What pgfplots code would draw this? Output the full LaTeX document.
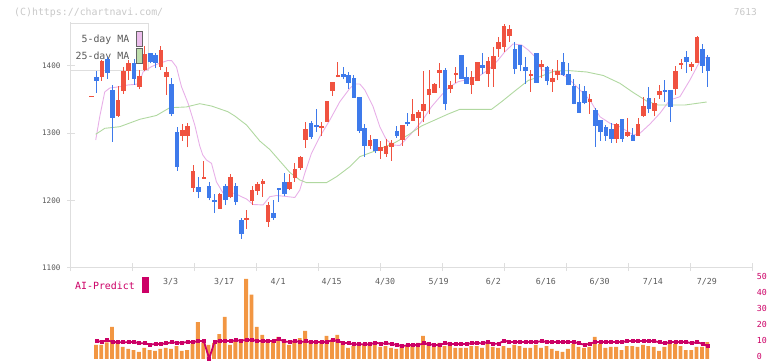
\documentclass[border=0pt]{standalone}
\usepackage{pgfplots}
\pgfplotsset{compat=1.18}
\usepackage{pgfplotstable}
\usepackage{fontspec}
\newfontfamily\chartfont{DejaVu Sans Mono}

\definecolor{upred}{RGB}{240,82,64}
\definecolor{downblue}{RGB}{62,122,235}
\definecolor{ma5}{RGB}{232,176,232}
\definecolor{ma25}{RGB}{176,216,160}
\definecolor{swpink}{RGB}{236,190,236}
\definecolor{swgreen}{RGB}{190,222,172}
\definecolor{swborder}{RGB}{100,100,100}
\definecolor{axisgray}{RGB}{222,222,222}
\definecolor{labgray}{RGB}{90,90,90}
\definecolor{wm}{RGB}{200,200,200}
\definecolor{volorange}{RGB}{242,150,66}
\definecolor{aimag}{RGB}{204,0,102}

% daily candles: i = trading day index, O H L C
\pgfplotstableread{
i O H L C
0 1354 1354 1354 1354
2 1384 1409 1378 1408
5 1327 1370 1324 1349
6 1363 1398 1359 1393
7 1393 1409 1379 1405
9 1369 1394 1365 1385
10 1395 1430 1393 1418
13 1399 1430 1394 1424
14 1384 1398 1357 1391
17 1297 1314 1289 1305
18 1297 1315 1279 1311
19 1219 1253 1213 1244
21 1233 1258 1233 1235
24 1188 1211 1187 1210
26 1206 1239 1203 1235
29 1172 1185 1158 1174
30 1200 1221 1193 1215
31 1214 1228 1208 1225
32 1225 1232 1205 1229
33 1168 1198 1161 1193
37 1218 1239 1215 1227
38 1234 1255 1228 1247
39 1249 1266 1245 1264
40 1290 1316 1278 1306
43 1309 1316 1296 1311
44 1317 1348 1317 1348
45 1364 1376 1356 1376
46 1385 1406 1383 1387
52 1281 1297 1276 1290
54 1274 1289 1262 1279
55 1270 1291 1265 1281
56 1280 1290 1259 1285
58 1291 1312 1281 1312
60 1319 1351 1318 1329
61 1323 1334 1296 1331
62 1333 1393 1316 1344
63 1358 1394 1328 1366
64 1360 1375 1360 1373
65 1390 1405 1367 1394
67 1367 1377 1360 1371
68 1387 1399 1375 1390
71 1373 1392 1358 1383
72 1378 1406 1378 1406
74 1389 1414 1369 1407
75 1396 1429 1369 1415
76 1426 1443 1414 1435
77 1429 1463 1421 1460
78 1445 1461 1436 1455
82 1386 1394 1362 1388
84 1399 1409 1382 1403
86 1377 1396 1362 1382
87 1388 1409 1379 1393
93 1347 1359 1329 1351
98 1292 1315 1286 1314
100 1297 1322 1295 1302
102 1297 1322 1297 1314
103 1327 1354 1324 1340
105 1334 1353 1325 1345
106 1358 1372 1351 1363
109 1366 1400 1357 1392
110 1402 1411 1395 1405
112 1399 1406 1393 1403
113 1405 1445 1405 1443
}\upcandles

\pgfplotstableread{
i O H L C
1 1383 1392 1360 1377
3 1410 1413 1381 1390
4 1363 1372 1287 1323
8 1403 1410 1372 1381
11 1418 1420 1404 1406
12 1416 1419 1397 1404
15 1373 1382 1325 1329
16 1301 1309 1244 1250
20 1219 1234 1203 1213
22 1220 1227 1200 1204
23 1200 1210 1181 1198
25 1220 1224 1193 1200
27 1220 1226 1193 1198
28 1170 1174 1143 1150
34 1180 1200 1171 1173
35 1218 1219 1198 1216
36 1226 1240 1206 1210
41 1314 1318 1292 1295
42 1311 1336 1302 1309
47 1388 1399 1380 1384
48 1386 1391 1366 1374
49 1382 1386 1353 1353
50 1353 1353 1300 1303
51 1307 1314 1265 1281
53 1290 1290 1270 1273
57 1302 1310 1293 1296
59 1316 1330 1311 1314
66 1394 1397 1334 1344
69 1415 1415 1381 1381
70 1383 1398 1373 1373
73 1401 1420 1388 1397
79 1424 1435 1388 1396
80 1430 1430 1392 1402
81 1398 1414 1373 1392
83 1418 1418 1375 1375
85 1398 1400 1371 1378
88 1405 1420 1385 1386
89 1388 1405 1371 1372
90 1369 1380 1343 1343
91 1345 1373 1330 1330
92 1362 1370 1343 1345
94 1333 1337 1280 1311
95 1319 1319 1289 1302
96 1308 1312 1289 1296
97 1306 1315 1286 1291
99 1320 1320 1287 1292
101 1296 1308 1289 1289
104 1352 1369 1330 1336
107 1363 1379 1347 1361
108 1363 1363 1317 1339
111 1413 1422 1390 1406
114 1424 1433 1390 1400
115 1413 1416 1369 1393
}\downcandles

% volume (scaled) and AI-Predict score per day
\pgfplotstableread{
i V A
1 8.75 11.2
2 8.75 10.8
3 10.4 11.7
4 20 10.6
5 10.4 10.6
6 7.5 10.4
7 6.25 10.6
8 5.6 10.6
9 4.4 9.8
10 6.9 9.8
11 5.6 9.0
12 5 9.4
13 6.25 9.4
14 6.9 9.8
15 6.25 10.4
16 8.1 10.2
17 5 10.2
18 5.6 10.6
19 9.6 10.6
20 23.1 11.2
21 10.4 11.2
22 8.75 0.3
23 10 10.8
24 15.6 11.2
25 26.25 11.2
26 8.75 11.2
27 11.25 11.7
28 11.25 11.5
29 50 11.9
30 40.2 11.9
31 20 11.2
32 15 11.2
33 11.25 11.2
34 11.25 11.2
35 13.75 12.3
36 11.9 11.0
37 8.75 10.6
38 11.25 11.2
39 13.1 10.6
40 17.5 11.0
41 10.4 10.6
42 10.4 10.6
43 10.4 10.6
44 14.4 10.6
45 11.25 11.9
46 15 11.2
47 10.4 10.2
48 6.9 9.8
49 8.1 9.2
50 8.75 9.2
51 8.75 9.2
52 8.75 9.2
53 8.75 10.2
54 7.5 9.6
55 8.1 9.8
56 6.9 9.4
57 6.25 8.8
58 8.1 8.1
59 8.1 8.6
60 8.1 8.8
61 10 8.8
62 14.4 9.8
63 10.6 9.2
64 7.5 8.8
65 10 8.8
66 8.1 9.8
67 8.75 9.4
68 6.9 9.4
69 6.9 9.4
70 6.9 9.4
71 8.1 9.8
72 8.1 10.0
73 6.9 9.8
74 9.4 10.6
75 7.5 9.4
76 6.9 9.6
77 8.1 11.5
78 6.9 10.6
79 8.75 10.6
80 8.1 10.6
81 6.9 10.6
82 6.9 10.6
83 8.75 10.6
84 6.9 11.2
85 8.1 10.6
86 6.25 10.6
87 5 10.6
88 4.4 10.6
89 6.25 10.6
90 9.4 10.6
91 7.5 9.8
92 6.9 8.8
93 7.5 9.6
94 13.75 10.6
95 9.4 10.6
96 6.9 10.6
97 7.5 10.6
98 7.5 10.6
99 5.6 10.6
100 8.1 11.2
101 8.1 11.2
102 7.5 11.2
103 8.75 11.2
104 8.1 11.2
105 7.5 11.2
106 5 10.4
107 7.5 9.8
108 10.6 10.6
109 9.4 10.6
110 8.1 10.6
111 5.6 10.6
112 5.6 9.8
113 7.5 10.6
114 7.5 9.4
115 10.6 8.1
}\voltable

\begin{document}
\begin{tikzpicture}[x=1pt,y=1pt]
\path[use as bounding box] (0,0) rectangle (772,361);

% header texts
\node[anchor=west, inner sep=0, text=wm, font=\chartfont\fontsize{9.9}{11}\selectfont] at (14,348.3) {(C)https://chartnavi.com/};
\node[anchor=east, inner sep=0, text=wm, font=\chartfont\fontsize{9.5}{11}\selectfont] at (757,349) {7613};

% moving-average legend
\draw[draw=axisgray, fill=white, line width=1pt] (70,337) rectangle (148.3,290);
\node[anchor=east, inner sep=0, text=labgray, font=\chartfont\fontsize{9.9}{11}\selectfont] at (129.5,321) {5-day MA};
\node[anchor=east, inner sep=0, text=labgray, font=\chartfont\fontsize{9.9}{11}\selectfont] at (129.5,304.5) {25-day MA};
\draw[fill=swpink, draw=swborder, line width=0.9pt] (136,330) rectangle (142.7,314.3);
\draw[fill=swgreen, draw=swborder, line width=0.9pt] (136,312.7) rectangle (142.7,297.7);

% AI-Predict legend
\node[anchor=east, inner sep=0, text=aimag, font=\chartfont\fontsize{9.9}{11}\selectfont] at (135,74.7) {AI-Predict};
\fill[aimag] (142.3,83.7) rectangle (148.7,68.3);

% price panel
\begin{axis}[
  at={(71pt,93.5pt)}, anchor=south west, scale only axis,
  width=681pt, height=245.5pt,
  xmin=-3.77, xmax=123.23, ymin=1100, ymax=1465.5,
  axis x line*=bottom, axis y line*=left,
  axis line style={draw=axisgray, line width=1pt},
  tick style={draw=axisgray, line width=1pt},
  tick align=center, major tick length=8pt,
  xtick={-3.77,7.74,19.24,30.80,42.44,53.94,65.50,77.07,88.64,100.21,111.77,123.23},
  xticklabels={},
  extra x ticks={14.8,24.8,34.85,44.85,54.8,64.8,75.0,84.8,94.8,104.75,114.8},
  extra x tick labels={3/3,3/17,4/1,4/15,4/30,5/19,6/2,6/16,6/30,7/14,7/29},
  extra x tick style={tick style={draw=none},
    xticklabel style={anchor=center, yshift=-10pt}},
  ytick={1100,1200,1300,1400},
  yticklabels={1100,1200,1300,1400},
  xticklabel style={font=\chartfont\fontsize{8.3}{9}\selectfont, text=labgray},
  yticklabel style={font=\chartfont\fontsize{7.6}{9}\selectfont, text=labgray, xshift=-3pt},
]
\addplot[ma5, line width=0.9pt, mark=none] coordinates {
(0.84,1289.8) (1.59,1324.5) (2.52,1361.3) (3.45,1367.2) (5.32,1369.2) (6.81,1371.7)
(8.43,1372.8) (9.05,1376.2) (9.66,1391.1) (11.23,1399.0) (12.41,1403.0) (14.27,1408.2)
(15.02,1407.9) (15.90,1398.5) (16.83,1369.2) (18.06,1344.5) (19.31,1312.2) (20.24,1280.9)
(20.80,1267.5) (21.49,1260.1) (22.43,1255.1) (23.36,1227.3) (24.59,1210.9) (26.77,1210.5)
(28.02,1205.4) (28.96,1202.0) (30.19,1193.8) (32.05,1193.1) (33.30,1205.4) (34.55,1207.2)
(36.42,1205.7) (37.97,1204.2) (38.90,1215.4) (39.83,1240.3) (41.08,1270.0) (42.63,1294.7)
(44.50,1319.6) (46.36,1346.8) (48.23,1366.8) (49.16,1373.2) (50.09,1373.2) (51.03,1364.3)
(52.57,1339.4) (53.82,1309.6) (55.07,1289.8) (56.31,1282.4) (57.56,1281.6) (59.74,1299.8)
(61.60,1317.1) (63.47,1339.4) (65.34,1356.8) (66.88,1369.2) (68.43,1376.6) (70.30,1380.2)
(72.16,1384.1) (74.03,1394.0) (75.90,1408.9) (77.15,1421.3) (78.69,1432.8) (80.26,1431.3)
(81.49,1423.8) (82.74,1413.8) (83.99,1394.0) (85.22,1393.3) (86.47,1391.5) (88.66,1384.1)
(90.52,1369.2) (93.00,1349.4) (94.87,1324.5) (96.74,1314.7) (98.60,1309.6) (101.08,1297.3)
(102.33,1299.8) (104.20,1313.6) (106.06,1329.6) (107.93,1349.4) (109.79,1354.3) (111.66,1379.2)
(113.53,1407.4) (114.78,1413.4)
};
\addplot[ma25, line width=0.9pt, mark=none] coordinates {
(0.84,1298.3) (2.52,1307.2) (5.32,1309.6) (9.05,1320.6) (12.16,1326.3) (14.65,1337.9)
(17.76,1339.0) (20.24,1343.9) (22.43,1340.4) (25.47,1332.0) (26.77,1325.6) (28.96,1312.2)
(31.44,1288.3) (33.30,1275.7) (35.17,1258.6) (37.04,1241.5) (38.90,1230.3) (40.15,1226.3)
(43.88,1226.3) (45.75,1235.2) (48.23,1250.1) (50.09,1265.0) (52.57,1272.4) (55.07,1280.9)
(56.62,1285.8) (59.10,1297.3) (61.60,1310.7) (64.09,1319.6) (66.57,1328.5) (68.75,1335.5)
(74.66,1335.5) (76.53,1346.8) (79.01,1362.8) (81.49,1378.4) (83.99,1385.1) (86.47,1392.6)
(89.27,1393.0) (92.39,1391.1) (95.48,1385.9) (98.60,1374.2) (101.08,1360.5) (103.58,1347.9)
(105.69,1341.9) (110.73,1341.9) (114.78,1346.4)
};
% wicks
\addplot[draw=none, mark=none, error bars/.cd, y dir=plus, y explicit, error mark=none,
  error bar style={draw=upred, line width=1pt}]
  table[x=i, y=L, y error plus expr=\thisrow{H}-\thisrow{L}] {\upcandles};
\addplot[draw=none, mark=none, error bars/.cd, y dir=plus, y explicit, error mark=none,
  error bar style={draw=downblue, line width=1pt}]
  table[x=i, y=L, y error plus expr=\thisrow{H}-\thisrow{L}] {\downcandles};
% bodies
\addplot[only marks, mark=-, mark size=2.3pt, mark options={draw=upred, line width=1pt},
  error bars/.cd, y dir=plus, y explicit, error mark=none,
  error bar style={draw=upred, line width=4.6pt}]
  table[x=i, y=O, y error plus expr=\thisrow{C}-\thisrow{O}] {\upcandles};
\addplot[only marks, mark=-, mark size=2.3pt, mark options={draw=downblue, line width=1pt},
  error bars/.cd, y dir=minus, y explicit, error mark=none,
  error bar style={draw=downblue, line width=4.6pt}]
  table[x=i, y=O, y error minus expr=\thisrow{O}-\thisrow{C}] {\downcandles};
\end{axis}

% volume / AI-Predict panel
\begin{axis}[
  at={(71pt,2pt)}, anchor=south west, scale only axis,
  width=681pt, height=80pt,
  xmin=-3.77, xmax=123.23, ymin=0, ymax=50,
  hide x axis, axis y line*=right,
  y axis line style={draw=none},
  ytick={0,10,20,30,40,50}, yticklabels={0,10,20,30,40,50},
  ytick style={draw=none}, major tick length=0pt,
  yticklabel style={font=\chartfont\fontsize{8.3}{9}\selectfont, text=aimag, anchor=west,
    inner sep=0.5pt, xshift=4.2pt, yshift=3pt},
  clip=false,
]
\addplot[ybar, bar width=3.8pt, bar shift=-0.6pt, fill=volorange, draw=none]
  table[x=i, y=V] {\voltable};
\addplot[aimag, line width=1.8pt, mark=square*, mark size=1.1pt] table[x=i, y=A] {\voltable};
\end{axis}
\end{tikzpicture}
\end{document}
